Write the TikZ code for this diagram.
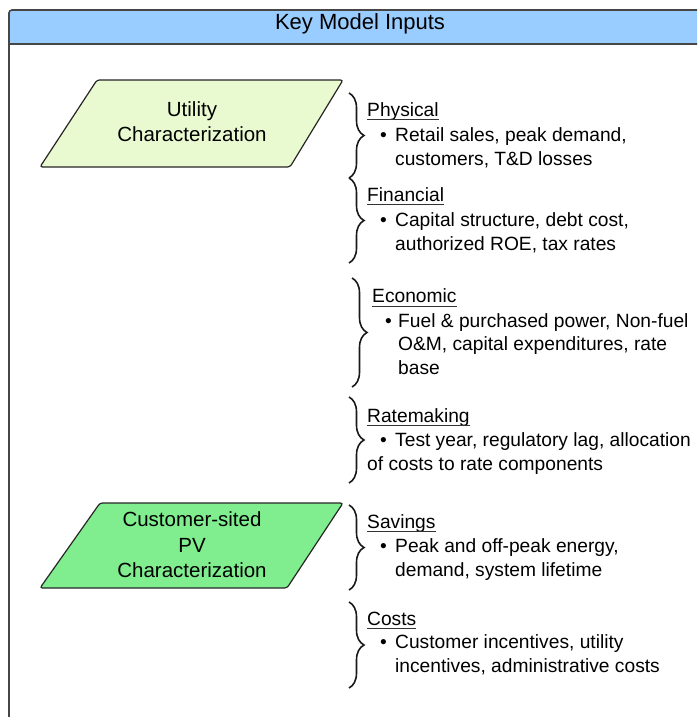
\documentclass[tikz,border=0pt]{standalone}
\usepackage{fontspec}
\setmainfont{Liberation Sans}
\usetikzlibrary{decorations.pathreplacing}
\definecolor{hdr}{RGB}{153,204,255}
\definecolor{lgreen}{RGB}{234,250,208}
\definecolor{mgreen}{RGB}{128,238,142}
\definecolor{edge}{RGB}{70,70,70}
\begin{document}
\begin{tikzpicture}[x=1pt,y=-1pt,
  txt/.style={anchor=base west, inner sep=0pt, font=\fontsize{19.2}{22}\selectfont},
  ptxt/.style={anchor=base, inner sep=0pt, font=\fontsize{20.5}{24}\selectfont},
  para/.style={draw=black!85, line width=1.2pt, rounded corners=2.5pt},
  brc/.style={decorate, decoration={brace, amplitude=15pt}, line width=1.6pt, draw=black!90},
  ttl/.style={anchor=base, inner sep=0pt, font=\fontsize{22}{26}\selectfont}]
\useasboundingbox (0,0) rectangle (697,717);
\clip (0,0) rectangle (697,717);
% frame and header
\fill[hdr] (9,10) rectangle (720,44);
\draw[edge, line width=1.6pt, rounded corners=3pt] (9,730) |- (720,10);
\draw[edge, line width=1.6pt] (9,44) -- (720,44);
\node[ttl] (title) at (360,30) {Key Model Inputs};
% parallelograms
\draw[para, fill=lgreen] (97,80) -- (343,80) -- (290,167) -- (40,167) -- cycle;
\node[ptxt] (u1) at (192,116.7) {Utility};
\node[ptxt] (u2) at (192,141.7) {Characterization};
\draw[para, fill=mgreen] (100,503) -- (343,503) -- (287,588) -- (40,588) -- cycle;
\node[ptxt] (c1) at (192,526.7) {Customer-sited};
\node[ptxt] (c2) at (192,552) {PV};
\node[ptxt] (c3) at (192,577) {Characterization};
% braces
\coordinate (b1t) at (349,93);  \coordinate (b1b) at (349,178);
\coordinate (b2t) at (349,178); \coordinate (b2b) at (349,263);
\coordinate (b3t) at (352,278); \coordinate (b3b) at (352,387);
\coordinate (b4t) at (349,397); \coordinate (b4b) at (349,483);
\coordinate (b5t) at (349,505); \coordinate (b5b) at (349,590);
\coordinate (b6t) at (349,602); \coordinate (b6b) at (349,688);
\foreach \i in {1,...,6} {\draw[brc] (b\i t) -- (b\i b);}
% Physical
\node[txt] (h1) at (367,116) {Physical};
\node[txt] (p1) at (380,141.7) {•};
\node[txt] (p1a) at (395,141.7) {Retail sales, peak demand,};
\node[txt] (p1b) at (395,165.5) {customers, T\&D losses};
% Financial
\node[txt] (h2) at (367,201) {Financial};
\node[txt] (p2) at (380,226.7) {•};
\node[txt] (p2a) at (395,226.7) {Capital structure, debt cost,};
\node[txt] (p2b) at (395,250.5) {authorized ROE, tax rates};
% Economic
\node[txt] (h3) at (372,302.5) {Economic};
\node[txt] (p3) at (385,327) {•};
\node[txt] (p3a) at (398,327) {Fuel \& purchased power, Non-fuel};
\node[txt] (p3b) at (398,350.5) {O\&M, capital expenditures, rate};
\node[txt] (p3c) at (398,374) {base};
% Ratemaking
\node[txt] (h4) at (367,422) {Ratemaking};
\node[txt] (p4) at (380,446) {•};
\node[txt] (p4a) at (395,446) {Test year, regulatory lag, allocation};
\node[txt] (p4b) at (367,470) {of costs to rate components};
% Savings
\node[txt] (h5) at (367,528) {Savings};
\node[txt] (p5) at (380,552) {•};
\node[txt] (p5a) at (395,552) {Peak and off-peak energy,};
\node[txt] (p5b) at (395,576) {demand, system lifetime};
% Costs
\node[txt] (h6) at (367,625) {Costs};
\node[txt] (p6) at (380,648.5) {•};
\node[txt] (p6a) at (395,648.5) {Customer incentives, utility};
\node[txt] (p6b) at (395,672) {incentives, administrative costs};
% underlines
\foreach \h in {h1,h2,h3,h4,h5,h6}
  {\draw[line width=1.1pt, black!80] ([yshift=-3.6pt]\h.base west) -- ([yshift=-3.6pt]\h.base east);}
\end{tikzpicture}
\end{document}
